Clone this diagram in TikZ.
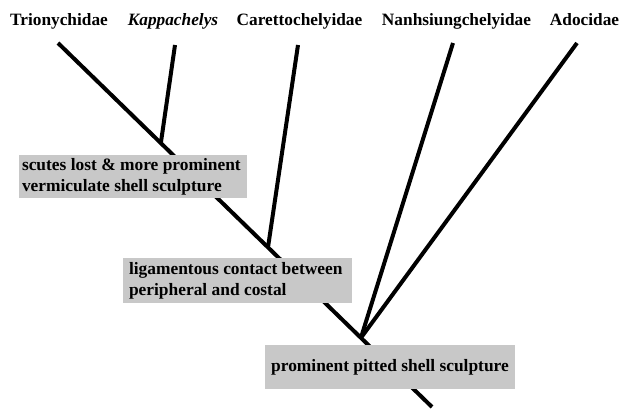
\documentclass[tikz,border=0pt]{standalone}
\usepackage{fontspec}
\setmainfont{Liberation Serif}
\usetikzlibrary{calc}
\definecolor{boxgray}{RGB}{200,200,200}
\tikzset{
  branch/.style={line width=4pt, black},
  taxon/.style={font=\fontsize{17.3}{20}\selectfont\bfseries, anchor=base, inner sep=0pt},
  charbox/.style={fill=boxgray, rectangle, align=flush left,
    font=\fontsize{17.4}{21}\selectfont\bfseries, inner ysep=0pt}
}
\begin{document}
\begin{tikzpicture}[x=1pt,y=-1pt]
\useasboundingbox (0,0) rectangle (622,409);

% taxon names
\node[taxon] (trio) at (59,26) {Trionychidae};
\node[taxon] (kapp) at (173,26) {\textit{Kappachelys}};
\node[taxon] (care) at (299.5,26) {Carettochelyidae};
\node[taxon] (nanh) at (456.5,26) {Nanhsiungchelyidae};
\node[taxon] (adoc) at (584.5,26) {Adocidae};

% branch tips and nodes of the tree
\coordinate (tTrio) at (58,43);
\coordinate (tKapp) at (175,45);
\coordinate (tCare) at (298,45);
\coordinate (tNanh) at (453,43);
\coordinate (tAdoc) at (577,43);
\coordinate (root) at (432,407);
\coordinate (j1) at ($(tTrio)!0.275!(root)$);
\coordinate (j2) at ($(tTrio)!0.5615!(root)$);
\coordinate (j3) at ($(tTrio)!0.81!(root)$);

% branches
\draw[branch] (tTrio) -- (root);
\draw[branch] (tKapp) -- (j1);
\draw[branch] (tCare) -- (j2);
\draw[branch] (tNanh) -- (j3);
\draw[branch] (tAdoc) -- (j3);

% character boxes
\node[charbox, minimum width=228pt, minimum height=43pt, text width=222pt,
      inner xsep=3pt] (c1) at (133,176.5)
  {scutes lost \& more prominent\\vermiculate shell sculpture};
\node[charbox, minimum width=229pt, minimum height=45pt, text width=217pt,
      inner xsep=6pt] (c2) at (237.5,280.5)
  {ligamentous contact between\\peripheral and costal};
\node[charbox, minimum width=250pt, minimum height=44pt, align=center] (c3) at (390,367)
  {prominent pitted shell sculpture};
\end{tikzpicture}
\end{document}
